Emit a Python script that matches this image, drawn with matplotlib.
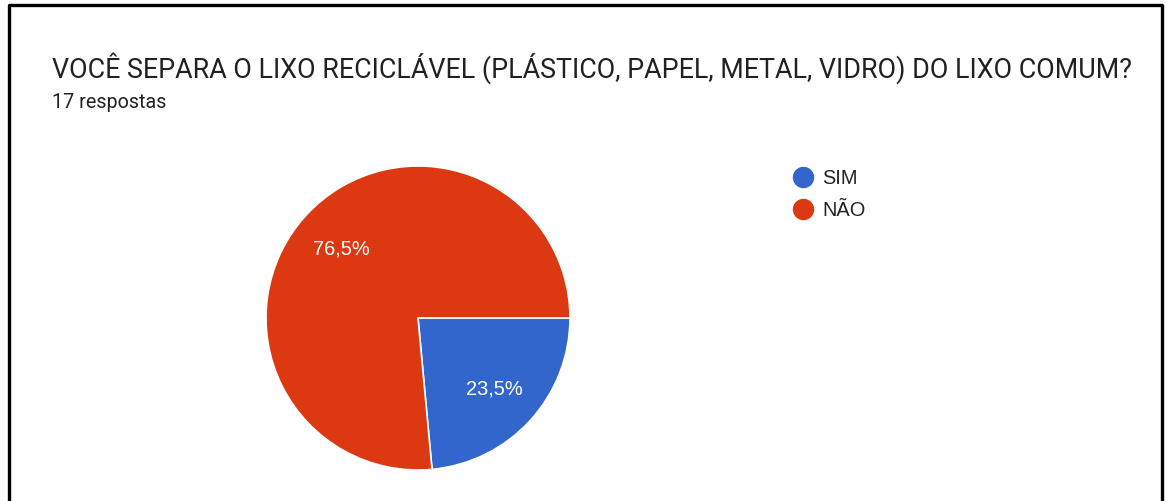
import matplotlib.pyplot as plt
from matplotlib.lines import Line2D

labels = ["SIM", "NÃO"]
values = [4, 13]
colors = ["#3366CC", "#DC3912"]
title = "VOCÊ SEPARA O LIXO RECICLÁVEL (PLÁSTICO, PAPEL, METAL, VIDRO) DO LIXO COMUM?"
subtitle = "17 respostas"

plt.rcParams['font.family'] = ['Roboto', 'DejaVu Sans']
chart_font = ['Liberation Sans', 'DejaVu Sans']

W, H = 1167, 502
fig = plt.figure(figsize=(W / 100, H / 100), dpi=100)

# frame around the card (no bottom edge)
def px(x, y):
    return x / W, 1 - y / H

xs, ys = zip(px(9, H + 5), px(9, 6), px(1162, 6), px(1162, H + 5))
fig.add_artist(Line2D(xs, ys, transform=fig.transFigure, color="black", lw=2.4))

fig.text(52 / W, 1 - 68 / H, title, fontsize=19.4, color="#202124", va="center")
fig.text(52 / W, 1 - 102 / H, subtitle, fontsize=14.2, color="#202124", va="center")

# pie: center (418, 319), radius 152 px
cx, cy, r = 418, 319, 152
ax = fig.add_axes([(cx - r) / W, (H - cy - r) / H, 2 * r / W, 2 * r / H])
wedges, texts, autotexts = ax.pie(
    values, colors=colors, startangle=0, counterclock=False,
    autopct=lambda p: f"{p:.1f}%".replace(".", ","), pctdistance=0.68,
    wedgeprops=dict(edgecolor="white", linewidth=1.2),
    textprops=dict(color="white", fontsize=14.4, family=chart_font))
ax.set_xlim(-1, 1)
ax.set_ylim(-1, 1)
ax.set_aspect("equal")
ax.axis("off")

# legend
for i, lab in enumerate(labels):
    y = 178 + 32 * i
    fig.add_artist(Line2D([803 / W], [1 - y / H], marker="o", markersize=14.4,
                          color=colors[i], transform=fig.transFigure, linestyle="none"))
    fig.text(822 / W, 1 - y / H, lab, fontsize=14.4, color="#222222", va="center",
             family=chart_font)

fig.savefig("out.png", dpi=100, facecolor="white")
